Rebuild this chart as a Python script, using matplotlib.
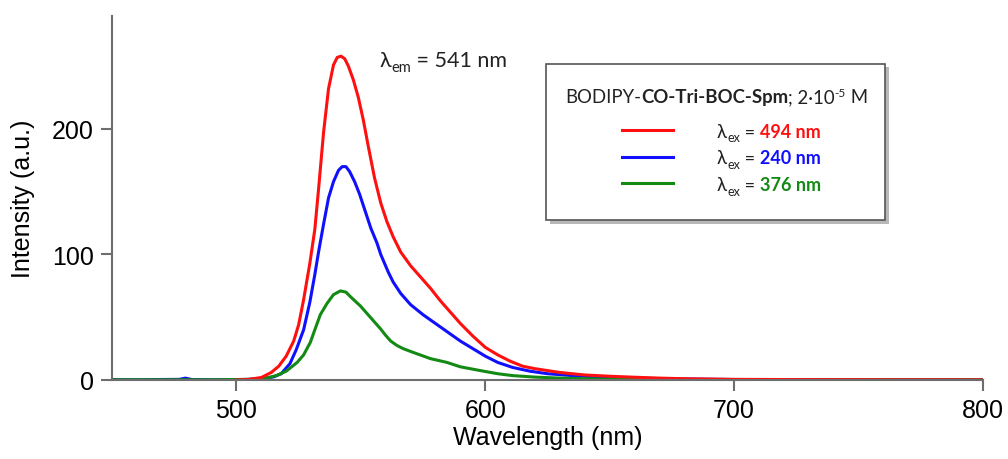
import matplotlib
matplotlib.use("Agg")
import matplotlib.pyplot as plt
from matplotlib.lines import Line2D
from matplotlib.patches import Rectangle

# --- data (wavelength in nm, intensity in a.u.) ---
red_nm = [500, 505, 510, 514, 517, 520, 523, 525, 527, 529.5, 531.5, 533, 535, 537,
          539, 540.5, 542, 543.5, 545, 547, 549, 551, 553, 555.5, 558, 560.5, 563,
          566, 570, 574, 578, 582, 586, 590, 595, 600, 605, 610, 615, 620, 625, 630,
          640, 650, 660, 670, 680, 700, 730, 760, 800]
red_int = [0, 0.5, 2, 6, 11, 19, 31, 44, 64, 93, 120, 152, 197, 232,
           251, 257, 258, 256, 250, 239, 225, 207, 186, 161, 141, 126, 114,
           102, 91, 82, 73, 63, 54, 45, 35, 26, 20, 15, 11, 9, 7.5, 6,
           4, 3, 2.2, 1.5, 1, 0.5, 0.3, 0.2, 0.1]

blue_nm = [450, 460, 470, 477, 479.5, 482, 490, 500, 505, 510, 515, 518, 521.5, 524,
           527, 529.5, 531.5, 533, 535, 537, 539, 541, 542.5, 544, 545.5, 547.5,
           549.5, 552, 554, 556.5, 558, 561, 563, 566, 570, 575, 580, 585, 590, 595,
           600, 605, 611, 618, 625, 635, 645, 660, 680, 700, 750, 800]
blue_int = [0.3, 0.2, 0.4, 0.5, 1.5, 0.4, 0.2, 0.3, 0.5, 1, 2.5, 5, 13, 24,
            40, 62, 84, 102, 124, 145, 158, 167, 170, 170, 166, 158,
            148, 133, 121, 109, 100, 86, 78, 69, 60, 52, 45, 38, 31, 25,
            19, 14, 10, 7, 5, 3.5, 2.5, 1.5, 0.8, 0.4, 0.2, 0.1]

green_nm = [450, 470, 490, 505, 512, 516, 520, 524.4, 527, 529.7, 531.5, 533.7, 536.4,
            539, 541.8, 544, 546, 549.8, 553.8, 557.8, 560, 562, 564.5, 567, 571, 578,
            584.6, 590, 598, 605, 611, 620, 630, 645, 660, 700, 800]
green_int = [0.2, 0.2, 0.2, 0.5, 1.5, 3.5, 7, 14, 20, 30, 40, 52, 61,
             68, 71, 70, 66, 59, 50, 41, 35.5, 31, 27.5, 25, 22, 17,
             14, 10.5, 7.5, 5, 3.5, 2.3, 1.5, 0.8, 0.5, 0.3, 0.1]

ex_labels = ["494 nm", "240 nm", "376 nm"]
colors = ["#ff1010", "#1010ff", "#138a13"]

W, H = 1008, 460
fig = plt.figure(figsize=(W / 100, H / 100), dpi=100)
ax = fig.add_axes([112 / W, 1 - 381 / H, (983 - 112) / W, (381 - 17) / H])

ax.plot(blue_nm, blue_int, color=colors[1], lw=2.2)
ax.plot(green_nm, green_int, color=colors[2], lw=2.2)
ax.plot(red_nm, red_int, color=colors[0], lw=2.2)

ax.set_xlim(450, 800)
ax.set_ylim(0, 290)
ax.set_xticks([500, 600, 700, 800])
ax.set_yticks([0, 100, 200])
for s in ["top", "right"]:
    ax.spines[s].set_visible(False)
for s in ["left", "bottom"]:
    ax.spines[s].set_color("#6e6e6e")
    ax.spines[s].set_linewidth(1.5)
ax.tick_params(direction="out", length=8, width=1.5, color="#6e6e6e",
               labelsize=18, pad=5)
for lab in ax.get_xticklabels() + ax.get_yticklabels():
    lab.set_family("Liberation Sans")
ax.set_xlabel("Wavelength (nm)", family="Liberation Sans", fontsize=18, labelpad=2)
ax.set_ylabel("Intensity (a.u.)", family="Liberation Sans", fontsize=18, labelpad=12)

renderer = fig.canvas.get_renderer()
cal = ["Lato", "DejaVu Sans"]


def runs(x, y, parts):
    # parts: (text, size, weight, color, dy) placed one after another, pixel coords
    for txt, size, weight, col, dy in parts:
        t = fig.text(x / W, 1 - (y + dy) / H, txt, fontsize=size, fontweight=weight,
                     color=col, family=cal, va="baseline", ha="left")
        x = t.get_window_extent(renderer).x1
    return x


# emission annotation
runs(380, 67, [("λ", 15.5, "normal", "#222222", 0),
               ("em", 10.5, "normal", "#222222", 5),
               (" = 541 nm", 15.5, "normal", "#222222", 0)])

# legend box with shadow
fig.add_artist(Rectangle((550 / W, 1 - 225 / H), 339 / W, 157 / H,
                         transform=fig.transFigure, facecolor="#b8b8b8",
                         edgecolor="none", zorder=5))
fig.add_artist(Rectangle((546 / W, 1 - 221 / H), 339 / W, 156 / H,
                         transform=fig.transFigure, facecolor="white",
                         edgecolor="#555555", lw=1.2, zorder=6))

x = runs(565, 103, [("BODIPY-", 13.4, "normal", "#222222", 0)])
x = runs(x, 103, [("CO-Tri-BOC-Spm", 13.4, "bold", "#222222", 0)])
runs(x, 103, [("; 2·10", 13.4, "normal", "#222222", 0),
              ("-5", 8.5, "normal", "#222222", -6),
              (" M", 13.4, "normal", "#222222", 0)])

row_y = [137.5, 164, 190.7]
for yb, lab, col in zip(row_y, ex_labels, colors):
    fig.add_artist(Line2D([622 / W, 673 / W], [1 - (yb - 6.5) / H] * 2,
                          transform=fig.transFigure, color=col, lw=2.2, zorder=7))
    x = runs(717, yb, [("λ", 13.5, "normal", "#222222", 0),
                       ("ex", 9, "normal", "#222222", 5),
                       (" = ", 13, "normal", "#222222", 0)])
    runs(x, yb, [(lab, 13, "bold", col, 0)])

for t in fig.texts:
    t.set_zorder(8)

fig.savefig("out.png", dpi=100)
